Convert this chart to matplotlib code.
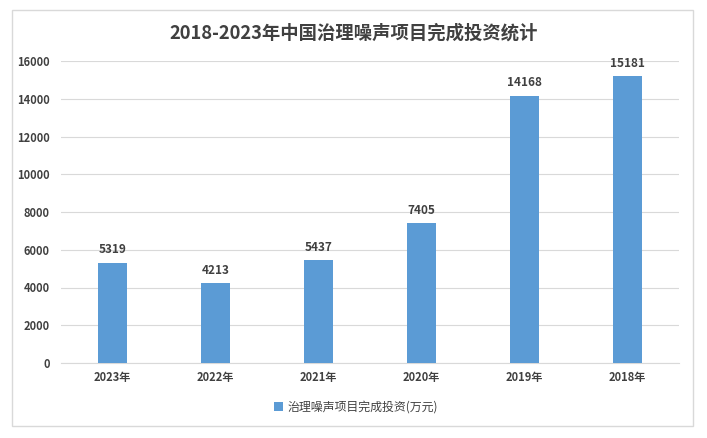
import matplotlib.pyplot as plt
from matplotlib.patches import Rectangle

plt.rcParams['font.family'] = ['Noto Sans CJK SC', 'DejaVu Sans']

# data
years = ["2023年", "2022年", "2021年", "2020年", "2019年", "2018年"]
investment = [5319, 4213, 5437, 7405, 14168, 15181]
yticks = [0, 2000, 4000, 6000, 8000, 10000, 12000, 14000, 16000]

bar_color = "#5B9BD5"
text_color = "#404040"

fig = plt.figure(figsize=(7.07, 4.38), dpi=100)
ax = fig.add_axes([61 / 707, 1 - 363 / 438, 618 / 707, 302 / 438])

x = range(len(years))
bars = ax.bar(x, investment, width=0.29, color=bar_color, zorder=3,
              label="治理噪声项目完成投资(万元)")

for xi, v in zip(x, investment):
    ax.text(xi, v + 350, str(v), ha="center", va="bottom",
            fontsize=8.5, fontweight="bold", color=text_color)

ax.set_xlim(-0.5, len(years) - 0.5)
ax.set_ylim(0, 16000)
ax.set_yticks(yticks)
ax.set_yticklabels([str(t) for t in yticks])
ax.set_xticks(list(x))
ax.set_xticklabels(years)
ax.tick_params(axis="both", length=0, labelsize=8, colors=text_color)
ax.tick_params(axis="y", pad=8)
ax.tick_params(axis="x", pad=6)
for lbl in ax.get_xticklabels() + ax.get_yticklabels():
    lbl.set_fontweight("bold")

ax.grid(axis="y", color="#D9D9D9", linewidth=0.8, zorder=0)
for s in ["top", "right", "left"]:
    ax.spines[s].set_visible(False)
ax.spines["bottom"].set_color("#D9D9D9")

fig.text(0.5, 1 - 33 / 438, "2018-2023年中国治理噪声项目完成投资统计",
         ha="center", va="center", fontsize=13.2, fontweight="bold", color=text_color)

leg = fig.legend(loc="center", bbox_to_anchor=(356 / 707, 1 - 407 / 438), frameon=False,
                 fontsize=8.6, handlelength=0.7, handleheight=0.7, handletextpad=0.4)
for t in leg.get_texts():
    t.set_color(text_color)

# outer chart border
fig.patches.append(Rectangle((12 / 707, 1 - 426 / 438), 681 / 707, 416 / 438,
                             transform=fig.transFigure, fill=False,
                             edgecolor="#D9D9D9", linewidth=1))

fig.savefig("out.png", dpi=100)
